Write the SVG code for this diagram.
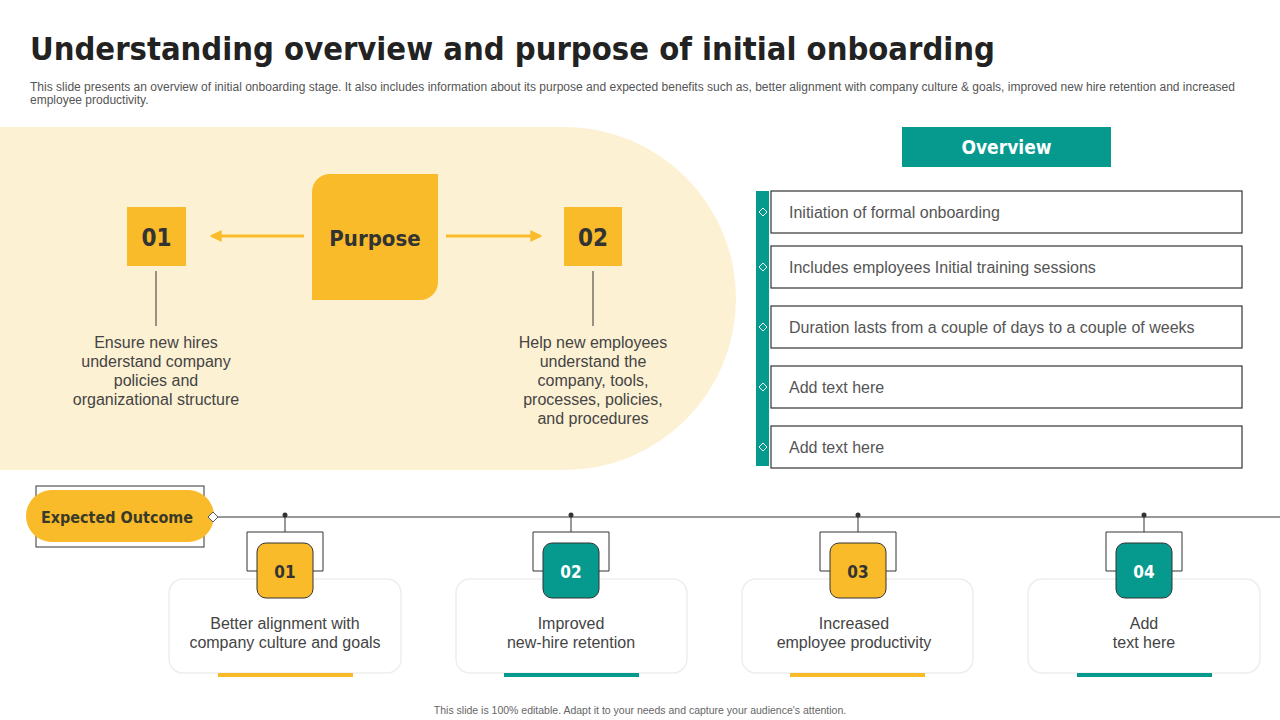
<svg xmlns="http://www.w3.org/2000/svg" width="1280" height="720" viewBox="0 0 1280 720">
<style>
.t{font-family:"Liberation Sans",Arial,sans-serif}
.h{font-family:"DejaVu Sans Condensed","DejaVu Sans",sans-serif;font-weight:bold}
.body{font-family:"Liberation Sans",Arial,sans-serif;font-size:16px;fill:#444;text-anchor:middle}
.ov{font-family:"Liberation Sans",Arial,sans-serif;font-size:16px;fill:#555}
.box{fill:#fff;stroke:#333;stroke-width:1.2}
.card{fill:#fff;stroke:#eee;stroke-width:1.5}
.thin{fill:none;stroke:#333;stroke-width:1}
</style>
<defs>
<marker id="ar" viewBox="0 0 10 10" refX="8" refY="5" markerWidth="4" markerHeight="4" orient="auto-start-reverse"><path d="M0,0L10,5L0,10z" fill="#F9BB29"/></marker>
</defs>
<rect width="1280" height="720" fill="#fff"/>
<text x="30" y="60" class="h" font-size="32" fill="#222" textLength="965" lengthAdjust="spacingAndGlyphs">Understanding overview and purpose of initial onboarding</text>
<text class="t" font-size="12" fill="#555"><tspan x="30" y="91" textLength="1205" lengthAdjust="spacingAndGlyphs">This slide presents an overview of initial onboarding stage. It also includes information about its purpose and expected benefits such as, better alignment with company culture &amp; goals, improved new hire retention and increased</tspan><tspan x="30" y="104">employee productivity.</tspan></text>
<path d="M0,127 H564.5 A171.5,171.5 0 0 1 564.5,470 H0 Z" fill="#FDF1D3"/>
<g id="purpose"><path d="M330,174 H438 V282 A18,18 0 0 1 420,300 H312 V192 A18,18 0 0 1 330,174 Z" fill="#F9BB29"/><text x="375" y="246" class="h" font-size="22" fill="#333" text-anchor="middle">Purpose</text></g>
<g id="p01"><rect x="127" y="207" width="59" height="59" fill="#F9BB29"/><text x="156.5" y="246" class="h" font-size="24" fill="#333" text-anchor="middle">01</text>
<text class="body"><tspan x="156" y="348">Ensure new hires</tspan><tspan x="156" y="367">understand company</tspan><tspan x="156" y="386">policies and</tspan><tspan x="156" y="405">organizational structure</tspan></text></g>
<g id="p02"><rect x="564" y="207" width="58" height="59" fill="#F9BB29"/><text x="593" y="246" class="h" font-size="24" fill="#333" text-anchor="middle">02</text>
<text class="body"><tspan x="593" y="348">Help new employees</tspan><tspan x="593" y="367">understand the</tspan><tspan x="593" y="386">company, tools,</tspan><tspan x="593" y="405">processes, policies,</tspan><tspan x="593" y="424">and procedures</tspan></text></g>
<g id="overview"><rect x="902" y="127" width="209" height="40" fill="#069A8E"/><text x="1006.5" y="154" class="h" font-size="19" fill="#fff" text-anchor="middle">Overview</text>
<rect x="756" y="191" width="13" height="275" fill="#069A8E"/>
<g fill="none" stroke="#fff" stroke-width="1"><path d="M763,208l4,4l-4,4l-4,-4z"/><path d="M763,263l4,4l-4,4l-4,-4z"/><path d="M763,323l4,4l-4,4l-4,-4z"/><path d="M763,383l4,4l-4,4l-4,-4z"/><path d="M763,443l4,4l-4,4l-4,-4z"/></g>
<rect class="box" x="771" y="191" width="471" height="42"/><text class="ov" x="789" y="218">Initiation  of formal onboarding</text>
<rect class="box" x="771" y="246" width="471" height="42"/><text class="ov" x="789" y="273">Includes  employees Initial  training sessions</text>
<rect class="box" x="771" y="306" width="471" height="42"/><text class="ov" x="789" y="333">Duration lasts from a couple of days to a couple of weeks</text>
<rect class="box" x="771" y="366" width="471" height="42"/><text class="ov" x="789" y="393">Add text here</text>
<rect class="box" x="771" y="426" width="471" height="42"/><text class="ov" x="789" y="453">Add text here</text></g>
<g id="connectors">
<line x1="304" y1="236" x2="212" y2="236" stroke="#F9BB29" stroke-width="3" marker-end="url(#ar)"/>
<line x1="446" y1="236" x2="540" y2="236" stroke="#F9BB29" stroke-width="3" marker-end="url(#ar)"/>
<line x1="156" y1="271" x2="156" y2="326" class="thin"/>
<line x1="593" y1="271" x2="593" y2="326" class="thin"/>
<line x1="218" y1="517" x2="1280" y2="517" class="thin"/>
<g fill="#333"><circle cx="285" cy="515" r="2.5"/><circle cx="571" cy="515" r="2.5"/><circle cx="858" cy="515" r="2.5"/><circle cx="1144" cy="515" r="2.5"/></g>
<g class="thin"><path d="M285,515V532M571,515V532M858,515V532M1144,515V532"/>
<path d="M257,571H247V532H323V571H313"/><path d="M543,571H533V532H609V571H599"/><path d="M830,571H820V532H896V571H886"/><path d="M1116,571H1106V532H1182V571H1172"/></g>
</g>
<g id="expected"><rect x="36" y="486" width="168" height="61" class="thin"/><rect x="26" y="490" width="188" height="52" rx="26" fill="#F9BB29"/><text x="117" y="523" class="h" font-size="16" fill="#3a3a2a" text-anchor="middle">Expected Outcome</text><path d="M213,512l5,5l-5,5l-5,-5z" fill="#fff" stroke="#555"/></g>
<g id="o1"><rect class="card" x="169" y="579" width="232" height="94" rx="14"/><rect x="218" y="673" width="135" height="4" fill="#F9BB29"/><rect x="257" y="543" width="56" height="55" rx="9" fill="#F9BB29" stroke="#333"/><text x="285" y="578" class="h" font-size="17" fill="#333" text-anchor="middle">01</text><text class="body"><tspan x="285" y="629">Better alignment with</tspan><tspan x="285" y="648">company culture and goals</tspan></text></g>
<g id="o2"><rect class="card" x="456" y="579" width="231" height="94" rx="14"/><rect x="504" y="673" width="135" height="4" fill="#069A8E"/><rect x="543" y="543" width="56" height="55" rx="9" fill="#069A8E" stroke="#333"/><text x="571" y="578" class="h" font-size="17" fill="#fff" text-anchor="middle">02</text><text class="body"><tspan x="571" y="629">Improved</tspan><tspan x="571" y="648">new-hire retention</tspan></text></g>
<g id="o3"><rect class="card" x="742" y="579" width="231" height="94" rx="14"/><rect x="790" y="673" width="135" height="4" fill="#F9BB29"/><rect x="830" y="543" width="56" height="55" rx="9" fill="#F9BB29" stroke="#333"/><text x="858" y="578" class="h" font-size="17" fill="#333" text-anchor="middle">03</text><text class="body"><tspan x="854" y="629">Increased</tspan><tspan x="854" y="648">employee productivity</tspan></text></g>
<g id="o4"><rect class="card" x="1028" y="579" width="232" height="94" rx="14"/><rect x="1077" y="673" width="135" height="4" fill="#069A8E"/><rect x="1116" y="543" width="56" height="55" rx="9" fill="#069A8E" stroke="#333"/><text x="1144" y="578" class="h" font-size="17" fill="#fff" text-anchor="middle">04</text><text class="body"><tspan x="1144" y="629">Add</tspan><tspan x="1144" y="648">text here</tspan></text></g>
<text x="640" y="714" class="t" font-size="10.5" fill="#666" text-anchor="middle">This slide is 100% editable.  Adapt it to your needs and capture your audience's attention.</text>
</svg>
